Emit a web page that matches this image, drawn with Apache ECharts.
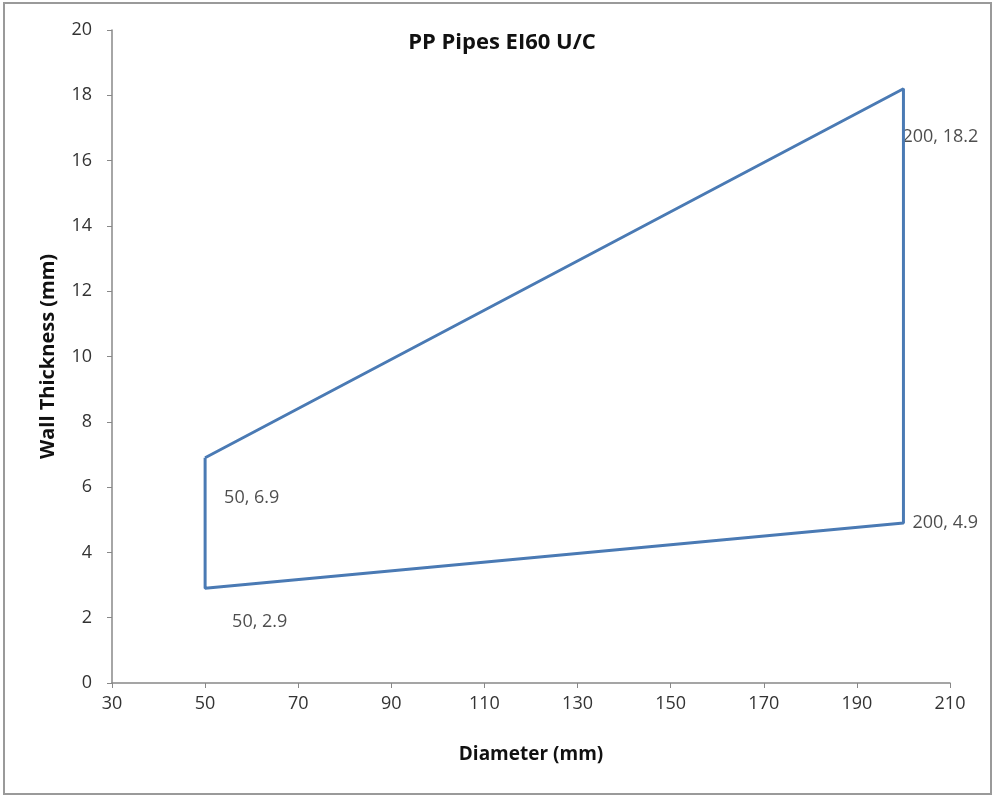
<!DOCTYPE html>
<html>
<head>
<meta charset="utf-8">
<script src="https://cdn.jsdelivr.net/npm/echarts@6/dist/echarts.min.js"></script>
<style>
  html, body { margin: 0; padding: 0; background: #fff; }
  #chart { width: 995px; height: 796px; }
</style>
</head>
<body>
<div id="chart"></div>
<script>
// outline of the envelope, in drawing order (closed)
const diam = [50, 200, 200, 50, 50];
const wall = [6.9, 18.2, 4.9, 2.9, 6.9];
// labelled corner points
const ptX = [50, 50, 200, 200];
const ptY = [6.9, 2.9, 18.2, 4.9];
const xTicks = { min: 30, max: 210, step: 20 };
const yTicks = { min: 0, max: 20, step: 2 };

// where each corner label sits relative to its point
const lblOff = [[14, 40], [22, 34], [-6, 48], [4, 0]];

const font = '"Open Sans", sans-serif';
const chart = echarts.init(document.getElementById('chart'));

let line = [];
for (let i = 0; i < diam.length; i++) line.push([diam[i], wall[i]]);

let pts = [];
for (let i = 0; i < ptX.length; i++) {
  pts.push({
    value: [ptX[i], ptY[i]],
    label: { offset: lblOff[i] }
  });
}

chart.setOption({
  animation: false,
  backgroundColor: '#fff',
  title: {
    text: 'PP Pipes EI60 U/C',
    left: 497, top: 27, textAlign: 'center',
    textStyle: { fontFamily: font, fontSize: 22, fontWeight: 'bold', color: '#111' }
  },
  graphic: [{
    type: 'rect',
    shape: { x: 4, y: 3, width: 987, height: 791 },
    style: { fill: 'none', stroke: '#9a9a9a', lineWidth: 2 },
    silent: true
  }],
  grid: { left: 112, right: 45, top: 30, bottom: 113 },
  xAxis: {
    type: 'value',
    min: xTicks.min, max: xTicks.max, interval: xTicks.step,
    name: 'Diameter (mm)',
    nameLocation: 'middle', nameGap: 62,
    nameTextStyle: { fontFamily: font, fontSize: 19, fontWeight: 'bold', color: '#111' },
    splitLine: { show: false },
    axisLine: { lineStyle: { color: '#888', width: 1.5 } },
    axisTick: { length: 5, lineStyle: { color: '#888' } },
    axisLabel: { fontFamily: font, fontSize: 18, color: '#333', margin: 12 }
  },
  yAxis: {
    type: 'value',
    min: yTicks.min, max: yTicks.max, interval: yTicks.step,
    name: 'Wall Thickness (mm)',
    nameLocation: 'middle', nameGap: 54, nameRotate: 90,
    nameTextStyle: { fontFamily: font, fontSize: 20, fontWeight: 'bold', color: '#111' },
    splitLine: { show: false },
    axisLine: { show: true, lineStyle: { color: '#888', width: 1.5 } },
    axisTick: { show: true, length: 5, lineStyle: { color: '#888' } },
    axisLabel: { fontFamily: font, fontSize: 18, color: '#333', margin: 20 }
  },
  series: [
    {
      type: 'line',
      data: line,
      showSymbol: false,
      lineStyle: { color: '#4a7ab4', width: 3 },
      silent: true
    },
    {
      type: 'scatter',
      data: pts,
      symbolSize: 0,
      label: {
        show: true,
        position: 'right',
        fontFamily: font, fontSize: 18, color: '#222',
        formatter: function (p) { return p.value[0] + ', ' + p.value[1]; }
      },
      silent: true
    }
  ]
});
</script>
</body>
</html>
